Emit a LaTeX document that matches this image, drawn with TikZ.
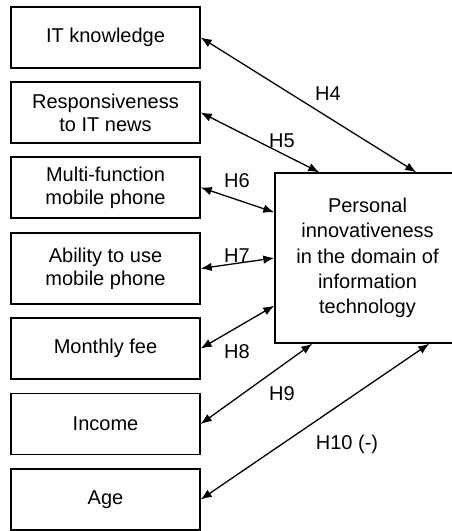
\documentclass[tikz,border=0pt]{standalone}
\usepackage{fontspec}
\setmainfont{Liberation Sans}
\usetikzlibrary{arrows.meta}
\begin{document}
\begin{tikzpicture}[x=1pt,y=-1pt,
  box/.style={draw, line width=1.4pt, inner sep=0pt, minimum width=189pt, minimum height=61pt,
    align=center, font=\fontsize{20}{23}\selectfont},
  bigbox/.style={draw, line width=1.4pt, inner sep=0pt, minimum width=185pt, minimum height=170pt,
    align=center, font=\fontsize{20}{25.3}\selectfont},
  harrow/.style={line width=1.3pt, {Latex[length=11pt,width=8.5pt]}-{Latex[length=11pt,width=8.5pt]}},
  hlab/.style={anchor=base, inner sep=0pt, font=\fontsize{20}{23}\selectfont}]
\clip (0,0) rectangle (452,531);
\fill[white] (0,0) rectangle (452,531);
\node[box] (b1) at (105.5,37.5) {IT knowledge};
\node[box] (b2) at (105.5,112.5) {Responsiveness\\to IT news};
\node[box] (b3) at (105.5,187.5) {Multi-function\\mobile phone};
\node[box, minimum height=71pt] (b4) at (105.5,268.5) {Ability to use\\mobile phone};
\node[box] (b5) at (105.5,348.5) {Monthly fee};
\node[box] (b6) at (105.5,424) {Income};
\node[box] (b7) at (105.5,499.5) {Age};
\node[bigbox] (pi) at (367.5,258) {Personal\\innovativeness\\in the domain of\\information\\technology};
\draw[harrow] (b1.east) -- ([xshift=142pt]pi.north west);
\draw[harrow] (b2.east) -- ([xshift=45pt]pi.north west);
\draw[harrow] (b3.east) -- ([yshift=-40pt]pi.north west);
\draw[harrow] (b4.east) -- (pi.west);
\draw[harrow] (b5.east) -- ([yshift=38pt]pi.south west);
\draw[harrow] (b6.east) -- ([xshift=38pt]pi.south west);
\draw[harrow] (b7.east) -- ([xshift=155pt]pi.south west);
\node[hlab] (h4) at (328,100) {H4};
\node[hlab] (h5) at (282,147) {H5};
\node[hlab] (h6) at (237,187) {H6};
\node[hlab] (h7) at (237,262) {H7};
\node[hlab] (h8) at (237,358) {H8};
\node[hlab] (h9) at (282,400) {H9};
\node[hlab] (h10) at (347,449) {H10 (-)};
\end{tikzpicture}
\end{document}
